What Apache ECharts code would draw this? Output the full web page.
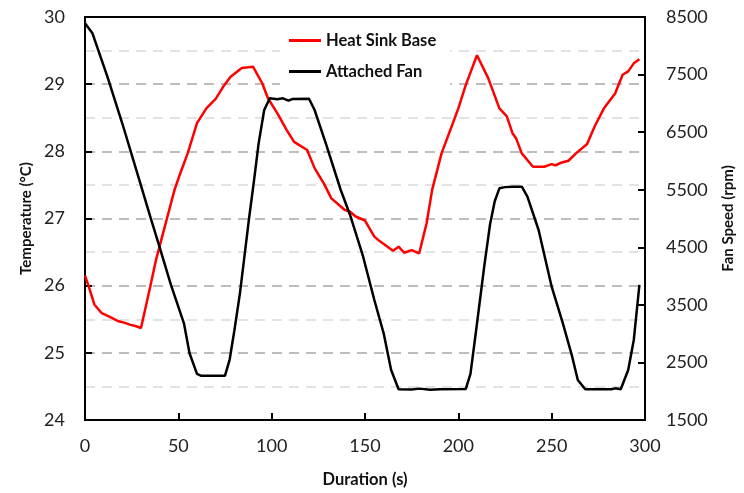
<!DOCTYPE html>
<html>
<head>
<meta charset="utf-8">
<script src="https://cdn.jsdelivr.net/npm/echarts@6/dist/echarts.min.js"></script>
<style>
html,body{margin:0;padding:0;background:#fff;}
#chart{width:744px;height:493px;}
</style>
</head>
<body>
<div id="chart"></div>
<script>
// ---- data ----
var heatTime = [0,2,5,9,13,18,21,24,27,30,35,38,42,48,51,55,60,65,70,74,78,84,90,95,98,103,108,112,119,123,128,132,139,142,145,150,155,158,165,168,171,175,179,180,183,186,191,196,200,204,210,216,222,226,229,231,234,240,246,250,252,255,259,263,269,273,278,284,288,291,294,297];
var heatTemp = [26.15,25.99,25.72,25.59,25.54,25.47,25.45,25.42,25.40,25.37,25.99,26.38,26.80,27.43,27.67,27.97,28.42,28.64,28.78,28.96,29.11,29.24,29.26,29.01,28.79,28.57,28.32,28.14,28.02,27.75,27.52,27.30,27.13,27.10,27.03,26.97,26.73,26.66,26.52,26.58,26.49,26.53,26.48,26.48,26.93,27.43,27.97,28.34,28.64,28.99,29.43,29.09,28.64,28.52,28.27,28.19,27.97,27.77,27.77,27.81,27.79,27.83,27.86,27.97,28.11,28.37,28.64,28.86,29.14,29.19,29.31,29.37];
var fanTime = [0,4,12,20,29,35,40,46,53,56,60,62,75,77.5,80,83,86,88,90.5,93,96,99,103,106,109,111,120,123,129,137,142,149,155,160,164,168,175,179,185,190,204,206.5,209.5,214,217,219.5,222,225,229,234,237,243,250,256,261,264,268,282,284,287,291,294,297];
var fanSpeed = [8390,8217,7463,6650,5680,5030,4500,3850,3180,2660,2300,2270,2270,2550,3050,3700,4500,5031,5650,6300,6885,7088,7070,7088,7046,7075,7081,6885,6306,5495,5061,4336,3584,3006,2368,2033,2030,2045,2025,2033,2040,2300,3050,4200,4900,5300,5524,5545,5553,5553,5379,4800,3815,3179,2600,2195,2033,2033,2050,2033,2368,2890,3845];
var xTicks = [0,50,100,150,200,250,300];
var tempTicks = [24,25,26,27,28,29,30];
var fanTicks = [1500,2500,3500,4500,5500,6500,7500,8500];
var seriesNames = ['Heat Sink Base','Attached Fan'];

function pairs(xs, ys){ return xs.map(function(x,i){ return [x, ys[i]]; }); }

var FONT = 'Lato, "Open Sans", sans-serif';
var chart = echarts.init(document.getElementById('chart'), null, {renderer:'canvas'});
chart.setOption({
  animation:false,
  backgroundColor:'#fff',
  textStyle:{fontFamily:FONT},
  grid:{left:85, right:99, top:17, bottom:73, show:true, borderColor:'#000', borderWidth:2, backgroundColor:'transparent'},
  legend:{
    data:seriesNames,
    orient:'vertical',
    left:280, top:24,
    itemGap:14,
    itemWidth:32, itemHeight:3, icon:'rect',
    backgroundColor:'#fff',
    padding:[8,14,8,9],
    textStyle:{fontFamily:FONT, fontSize:16.5, fontWeight:'bold', color:'#111'}
  },
  xAxis:{
    type:'value', min:xTicks[0], max:xTicks[xTicks.length-1], interval:50,
    name:'Duration (s)', nameLocation:'middle', nameGap:51,
    nameTextStyle:{fontFamily:FONT, fontSize:16.5, fontWeight:'bold', color:'#111'},
    axisLine:{show:true, lineStyle:{color:'#000', width:2}},
    axisTick:{show:true, inside:true, length:7, lineStyle:{color:'#000', width:2}},
    axisLabel:{fontFamily:FONT, fontSize:18, color:'#222', margin:17},
    splitLine:{show:false}
  },
  yAxis:[{
    type:'value', min:tempTicks[0], max:tempTicks[tempTicks.length-1], interval:1,
    name:'Temperature (°C)', nameLocation:'middle', nameGap:48,
    nameTextStyle:{fontFamily:FONT, fontSize:15, fontWeight:'bold', color:'#111'},
    axisLine:{show:true, lineStyle:{color:'#000', width:2}},
    axisTick:{show:true, inside:true, length:7, lineStyle:{color:'#000', width:2}},
    axisLabel:{fontFamily:FONT, fontSize:18, color:'#222', margin:20},
    splitLine:{show:true, showMinLine:false, showMaxLine:false, lineStyle:{color:'#bdbdbd', width:2, type:[10,7]}},
    minorTick:{show:false, splitNumber:2},
    minorSplitLine:{show:true, lineStyle:{color:'#e3e3e3', width:2, type:[10,7]}}
  },{
    type:'value', min:fanTicks[0], max:fanTicks[fanTicks.length-1], interval:1000,
    position:'right',
    name:'Fan Speed (rpm)', nameLocation:'middle', nameGap:76, nameRotate:90,
    nameTextStyle:{fontFamily:FONT, fontSize:15, fontWeight:'bold', color:'#111'},
    axisLine:{show:true, lineStyle:{color:'#000', width:2}},
    axisTick:{show:true, inside:true, length:7, lineStyle:{color:'#000', width:2}},
    axisLabel:{fontFamily:FONT, fontSize:18, color:'#222', margin:21, formatter:function(v){ return String(v); }},
    splitLine:{show:false}
  }],
  series:[{
    name:seriesNames[0], type:'line', yAxisIndex:0,
    data:pairs(heatTime, heatTemp),
    symbol:'none', lineStyle:{color:'#ff0000', width:2.5}, itemStyle:{color:'#ff0000'}, z:3
  },{
    name:seriesNames[1], type:'line', yAxisIndex:1,
    data:pairs(fanTime, fanSpeed),
    symbol:'none', lineStyle:{color:'#000000', width:2.5}, itemStyle:{color:'#000000'}, z:4
  }]
});
</script>
</body>
</html>
